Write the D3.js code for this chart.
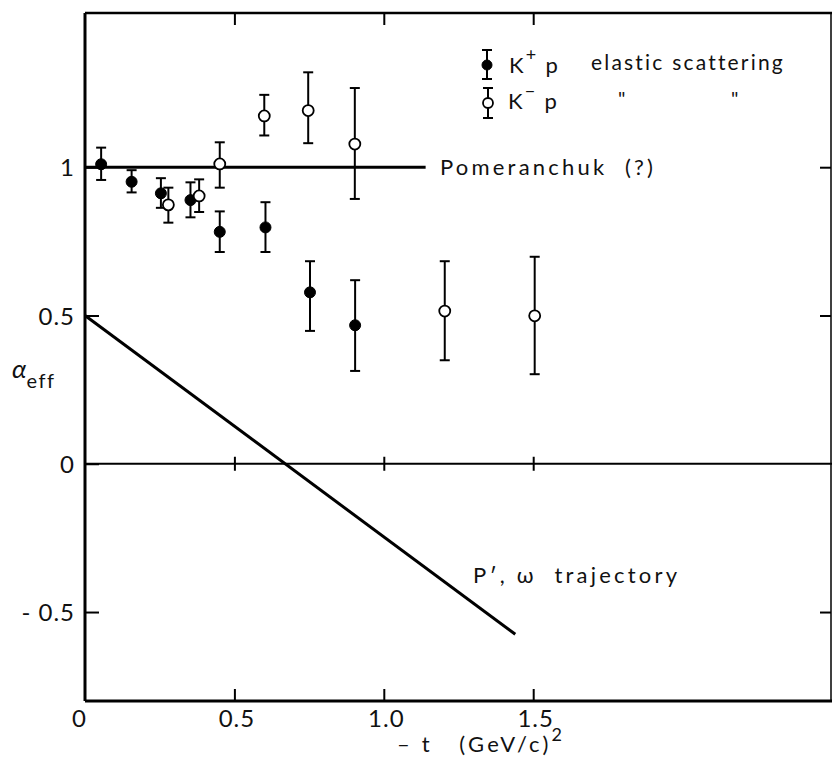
<!DOCTYPE html>
<html><head><meta charset="utf-8">
<script src="https://cdn.jsdelivr.net/npm/d3@7"></script>
<style>
html,body{margin:0;padding:0;background:#fff;}
svg{display:block;}
text{font-family:Lato,"DejaVu Sans",sans-serif;fill:#111;white-space:pre;}
</style></head>
<body>
<svg id="c" width="833" height="759"></svg>
<script>
// K+ p elastic scattering (filled)
const kplusT   = [0.054, 0.156, 0.254, 0.353, 0.451, 0.604, 0.753, 0.904];
const kplusA   = [1.010, 0.951, 0.912, 0.889, 0.782, 0.797, 0.578, 0.467];
const kplusLo  = [0.957, 0.915, 0.863, 0.831, 0.714, 0.714, 0.448, 0.313];
const kplusHi  = [1.066, 0.990, 0.963, 0.949, 0.851, 0.882, 0.683, 0.619];
// K- p elastic scattering (open)
const kminusT  = [0.279, 0.382, 0.451, 0.600, 0.747, 0.903, 1.204, 1.505];
const kminusA  = [0.873, 0.903, 1.011, 1.173, 1.191, 1.078, 0.515, 0.499];
const kminusLo = [0.813, 0.849, 0.931, 1.107, 1.081, 0.893, 0.349, 0.302];
const kminusHi = [0.931, 0.959, 1.084, 1.244, 1.320, 1.267, 0.683, 0.698];
// Pomeranchuk line and P', omega trajectory
const pomT = [0, 1.14];
const pomA = [1, 1];
const trajT = [0, 1.44];
const trajA = [0.5, -0.575];
// ticks
const xTicks = [0, 0.5, 1.0, 1.5];
const xTickLabels = ["0", "0.5", "1.0", "1.5"];
const yTicks = [-0.5, 0, 0.5, 1];
const yTickLabels = ["- 0.5", "0", "0.5", "1"];

(function(){
const svg = d3.select("#c");
const x = d3.scaleLinear().domain([0, 2.5]).range([85, 832]);
const y = d3.scaleLinear().domain([-0.8, 1.52]).range([701, 13]);
const X0 = x(0), X1 = x(2.5), Y0 = y(-0.8), Y1 = y(1.52);
const FS = 24;

// frame
svg.append("line").attr("x1",X0).attr("x2",X0).attr("y1",Y1).attr("y2",Y0).attr("stroke","#000").attr("stroke-width",3);
svg.append("line").attr("x1",X0).attr("x2",X1).attr("y1",Y0).attr("y2",Y0).attr("stroke","#000").attr("stroke-width",3);
svg.append("line").attr("x1",X0).attr("x2",X1).attr("y1",Y1).attr("y2",Y1).attr("stroke","#000").attr("stroke-width",2.5);
svg.append("line").attr("x1",X1-1).attr("x2",X1-1).attr("y1",Y1).attr("y2",Y0).attr("stroke","#000").attr("stroke-width",1.5);

// axes via d3 axes (ticks inward)
const gBottom = svg.append("g").attr("transform",`translate(0,${Y0})`)
  .call(d3.axisBottom(x).tickValues(xTicks).tickSize(-12).tickFormat((d,i)=>xTickLabels[i]));
const gTop = svg.append("g").attr("transform",`translate(0,${Y1})`)
  .call(d3.axisTop(x).tickValues(xTicks.slice(1)).tickSize(-12).tickFormat(""));
const gLeft = svg.append("g").attr("transform",`translate(${X0},0)`)
  .call(d3.axisLeft(y).tickValues(yTicks).tickSize(-14).tickFormat((d,i)=>yTickLabels[i]));
const gRight = svg.append("g").attr("transform",`translate(${X1-1},0)`)
  .call(d3.axisRight(y).tickValues([-0.5,0.5,1]).tickSize(-11).tickFormat(""));
[gBottom,gTop,gLeft,gRight].forEach(g=>{
  g.select(".domain").remove();
  g.attr("font-size",FS).attr("font-family",null);
  g.selectAll(".tick line").attr("stroke","#000").attr("stroke-width",2);
  g.selectAll(".tick text").attr("font-size",FS).attr("fill","#111").attr("style","letter-spacing:1px");
});
gBottom.select(".tick line").remove();
gBottom.selectAll(".tick text").attr("y",26).attr("dy",null).attr("dx",(d,i)=>i===0?-6:2);
gLeft.selectAll(".tick text").attr("x",-10).attr("dy","0.36em");
// zero line with crossing ticks
svg.append("line").attr("x1",X0).attr("x2",X1).attr("y1",y(0)).attr("y2",y(0)).attr("stroke","#000").attr("stroke-width",2);
const zt = svg.append("g").attr("transform",`translate(0,${y(0)-7})`)
  .call(d3.axisBottom(x).tickValues(xTicks.slice(1)).tickSize(14).tickFormat(""));
zt.select(".domain").remove();
zt.selectAll(".tick line").attr("stroke","#000").attr("stroke-width",2);

// lines
const line = d3.line().x(d=>x(d[0])).y(d=>y(d[1]));
svg.append("path").datum(d3.zip(pomT,pomA)).attr("d",line).attr("stroke","#000").attr("stroke-width",3).attr("fill","none");
svg.append("path").datum(d3.zip(trajT,trajA)).attr("d",line).attr("stroke","#000").attr("stroke-width",3).attr("fill","none");

// error bars + markers
function series(T,A,Lo,Hi,filled){
  const g = svg.append("g");
  T.forEach((t,i)=>{
    const cx = x(t);
    g.append("line").attr("x1",cx).attr("x2",cx).attr("y1",y(Lo[i])).attr("y2",y(Hi[i])).attr("stroke","#000").attr("stroke-width",2);
    [Lo[i],Hi[i]].forEach(v=>g.append("line").attr("x1",cx-5).attr("x2",cx+5).attr("y1",y(v)).attr("y2",y(v)).attr("stroke","#000").attr("stroke-width",2));
    g.append("circle").attr("cx",cx).attr("cy",y(A[i])).attr("r",5.5)
      .attr("fill",filled?"#000":"#fff").attr("stroke","#000").attr("stroke-width",filled?1:1.8);
  });
}
series(kplusT,kplusA,kplusLo,kplusHi,true);
series(kminusT,kminusA,kminusLo,kminusHi,false);

// legend
function legendMark(cx,cy,lo,hi,filled){
  svg.append("line").attr("x1",cx).attr("x2",cx).attr("y1",lo).attr("y2",hi).attr("stroke","#000").attr("stroke-width",2);
  [lo,hi].forEach(v=>svg.append("line").attr("x1",cx-5).attr("x2",cx+5).attr("y1",v).attr("y2",v).attr("stroke","#000").attr("stroke-width",2));
  svg.append("circle").attr("cx",cx).attr("cy",cy).attr("r",5).attr("fill",filled?"#000":"#fff").attr("stroke","#000").attr("stroke-width",filled?1:1.8);
}
legendMark(487,65,50,79,true);
legendMark(488,103,88,118,false);
const ls = "letter-spacing:2.2px";
const ls3 = "letter-spacing:3.2px";
const t1 = svg.append("text").attr("x",509).attr("y",73).attr("font-size",22).attr("style",ls);
t1.append("tspan").text("K");
t1.append("tspan").attr("dy",-12).attr("font-size",18).text("+");
t1.append("tspan").attr("dy",12).attr("dx",7).text("p");
svg.append("text").attr("x",591).attr("y",70).attr("font-size",21).attr("style",ls).text("elastic scattering");
const t2 = svg.append("text").attr("x",508).attr("y",109).attr("font-size",22).attr("style",ls);
t2.append("tspan").text("K");
t2.append("tspan").attr("dy",-12).attr("font-size",18).text("−");
t2.append("tspan").attr("dy",12).attr("dx",7).text("p");
svg.append("text").attr("x",618).attr("y",106).attr("font-size",20).text("\"");
svg.append("text").attr("x",731).attr("y",106).attr("font-size",20).text("\"");

svg.append("text").attr("x",440).attr("y",175).attr("font-size",22).attr("style",ls3).text("Pomeranchuk  (?)");
svg.append("text").attr("x",473).attr("y",583).attr("font-size",22).attr("style",ls3).text("P′, ω  trajectory");

// axis titles
const xt = svg.append("text").attr("x",397).attr("y",752).attr("font-size",22).attr("style",ls3);
xt.append("tspan").text("– t   (GeV/c)");
xt.append("tspan").attr("dy",-11).attr("font-size",18).text("2");
const yt = svg.append("text").attr("x",12).attr("y",378).attr("font-size",26);
yt.append("tspan").attr("font-style","italic").text("α");
yt.append("tspan").attr("dy",10).attr("font-size",20).attr("style","letter-spacing:1.5px").text("eff");
})();
</script>
</body></html>
